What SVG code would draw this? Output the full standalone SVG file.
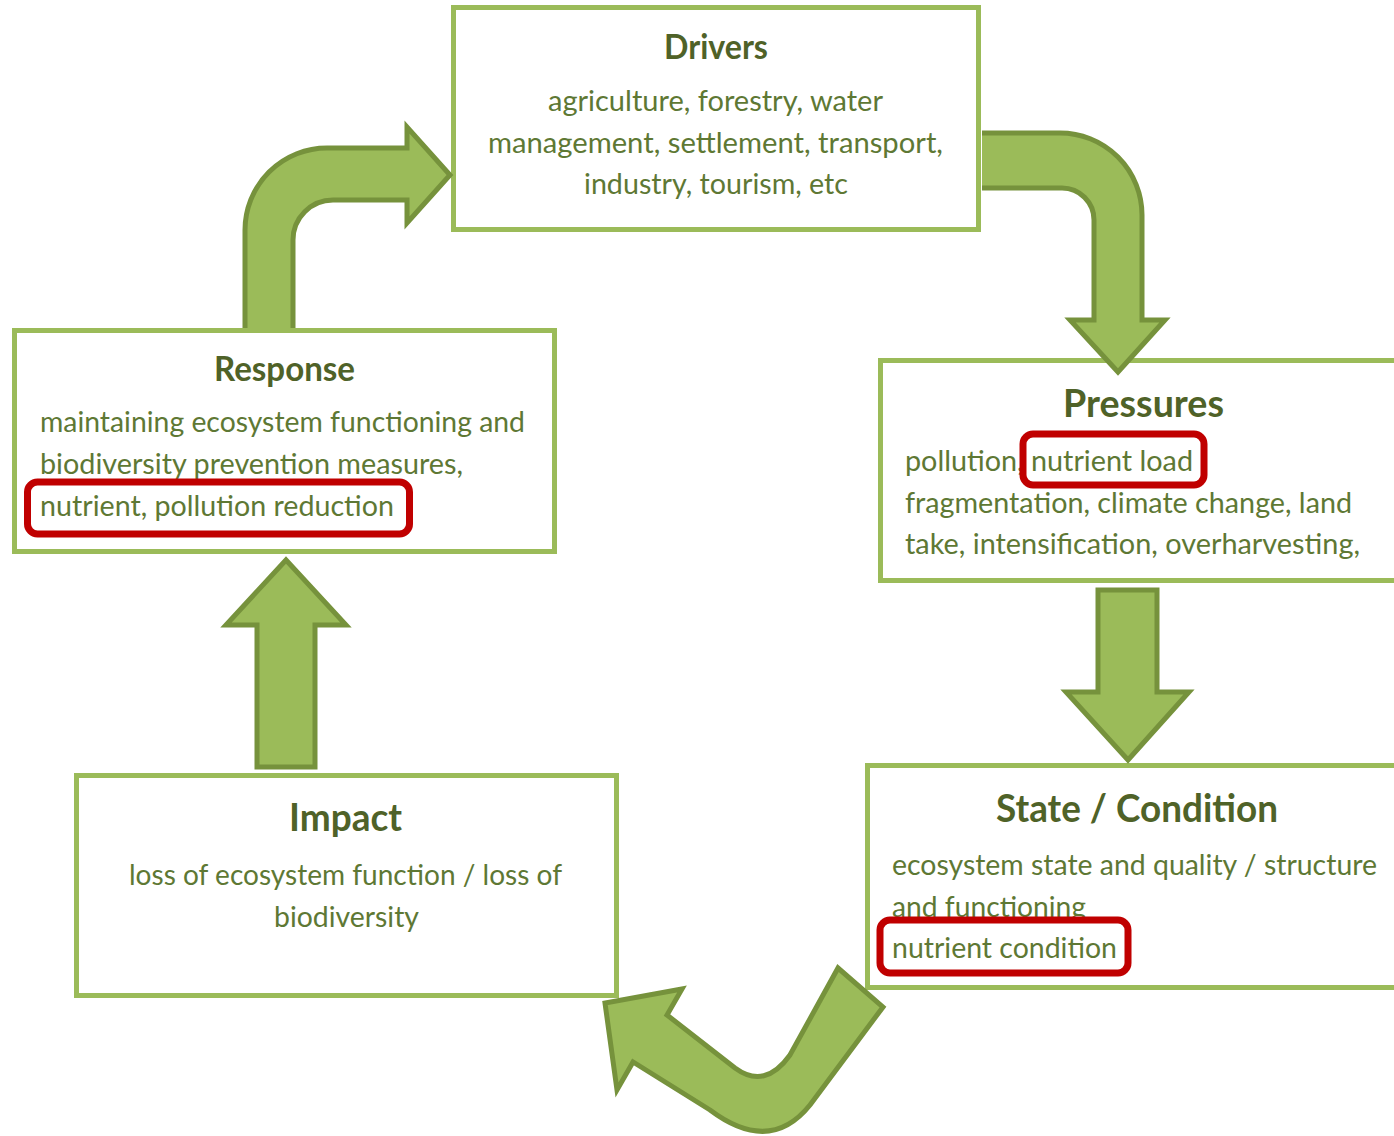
<svg xmlns="http://www.w3.org/2000/svg" width="1394" height="1136" viewBox="0 0 1394 1136">
<style>
.box{fill:#fff;stroke:#9BBB59;stroke-width:5}
.arr{fill:#9BBB59;stroke:#76923C;stroke-width:5;stroke-linejoin:miter;stroke-miterlimit:10}
.t{font-family:Lato,"Noto Sans","DejaVu Sans",sans-serif;font-weight:bold;fill:#4F6228}
.b{font-family:Lato,"Noto Sans","DejaVu Sans",sans-serif;font-size:29px;fill:#5E7834}
.hl{fill:none;stroke:#C00000;stroke-width:7}
</style>
<rect width="1394" height="1136" fill="#fff"/>
<g id="drivers">
<rect class="box" x="453.5" y="7.5" width="525" height="222"/>
<text class="t" x="716" y="59" font-size="34" text-anchor="middle" textLength="104" lengthAdjust="spacingAndGlyphs">Drivers</text>
<text class="b" x="715.5" y="111" text-anchor="middle" textLength="335" lengthAdjust="spacingAndGlyphs">agriculture, forestry, water</text>
<text class="b" x="715.5" y="153" text-anchor="middle" textLength="455" lengthAdjust="spacingAndGlyphs">management, settlement,  transport,</text>
<text class="b" x="716" y="194" text-anchor="middle" textLength="264" lengthAdjust="spacingAndGlyphs">industry, tourism, etc</text>
</g>
<g id="response">
<rect class="box" x="14.5" y="330.5" width="540" height="221"/>
<text class="t" x="284.5" y="381" font-size="34" text-anchor="middle" textLength="141" lengthAdjust="spacingAndGlyphs">Response</text>
<text class="b" x="40" y="432" textLength="485" lengthAdjust="spacingAndGlyphs">maintaining ecosystem functioning and</text>
<text class="b" x="40" y="474" textLength="423" lengthAdjust="spacingAndGlyphs">biodiversity prevention measures,</text>
<text class="b" x="40" y="516" textLength="354" lengthAdjust="spacingAndGlyphs">nutrient, pollution  reduction</text>
<rect class="hl" x="27.5" y="482" width="382" height="52" rx="10"/>
</g>
<g id="pressures">
<rect class="box" x="880.5" y="360.5" width="530" height="220"/>
<text class="t" x="1143.5" y="417" font-size="39" text-anchor="middle" textLength="161" lengthAdjust="spacingAndGlyphs">Pressures</text>
<text class="b" x="905" y="471" textLength="288" lengthAdjust="spacingAndGlyphs">pollution, nutrient load</text>
<text class="b" x="905" y="513" textLength="447" lengthAdjust="spacingAndGlyphs">fragmentation, climate change, land</text>
<text class="b" x="905" y="554" textLength="455" lengthAdjust="spacingAndGlyphs">take, intensification, overharvesting,</text>
<rect class="hl" x="1023" y="434" width="181" height="51" rx="10"/>
</g>
<g id="impact">
<rect class="box" x="76.5" y="775.5" width="540" height="220"/>
<text class="t" x="345.5" y="831" font-size="39" text-anchor="middle" textLength="113" lengthAdjust="spacingAndGlyphs">Impact</text>
<text class="b" x="345.5" y="885" text-anchor="middle" textLength="433" lengthAdjust="spacingAndGlyphs">loss of ecosystem function / loss of</text>
<text class="b" x="346.5" y="927" text-anchor="middle" textLength="145" lengthAdjust="spacingAndGlyphs">biodiversity</text>
</g>
<g id="state">
<rect class="box" x="867.5" y="765.5" width="540" height="222"/>
<text class="t" x="1137" y="822" font-size="39" text-anchor="middle" textLength="282" lengthAdjust="spacingAndGlyphs">State / Condition</text>
<text class="b" x="892" y="875" textLength="485" lengthAdjust="spacingAndGlyphs">ecosystem state and quality / structure</text>
<text class="b" x="892" y="917" textLength="194" lengthAdjust="spacingAndGlyphs">and functioning</text>
<text class="b" x="892" y="958" textLength="225" lengthAdjust="spacingAndGlyphs">nutrient condition</text>
<rect class="hl" x="880" y="920" width="248" height="53" rx="10"/>
</g>
<g id="connectors">
<path class="arr" d="M 293 328 L 293 240 A 40 40 0 0 1 333 200 L 407 200 L 407 223 L 450 175 L 407 127 L 407 148 L 327 148 A 82 82 0 0 0 245 230 L 245 328"/>
<path class="arr" d="M 982 188 L 1062 188 A 32 32 0 0 1 1094 220 L 1094 320 L 1070 320 L 1118 372 L 1165 320 L 1142 320 L 1142 215 A 82 82 0 0 0 1060 133 L 982 133"/>
<path class="arr" d="M 1098 590 L 1157 590 L 1157 692 L 1189 692 L 1128 760 L 1066 692 L 1098 692 Z"/>
<path class="arr" d="M 257 767 L 257 625 L 226 625 L 286 560 L 346 625 L 315 625 L 315 767 Z"/>
<path class="arr" d="M 838 968 L 883 1007 L 810 1105 Q 770 1155 710 1110 L 633 1062 L 617 1090 L 605 1003 L 682 989 L 667 1015 L 735 1068 Q 765 1090 790 1055 Z"/>
</g>
</svg>
